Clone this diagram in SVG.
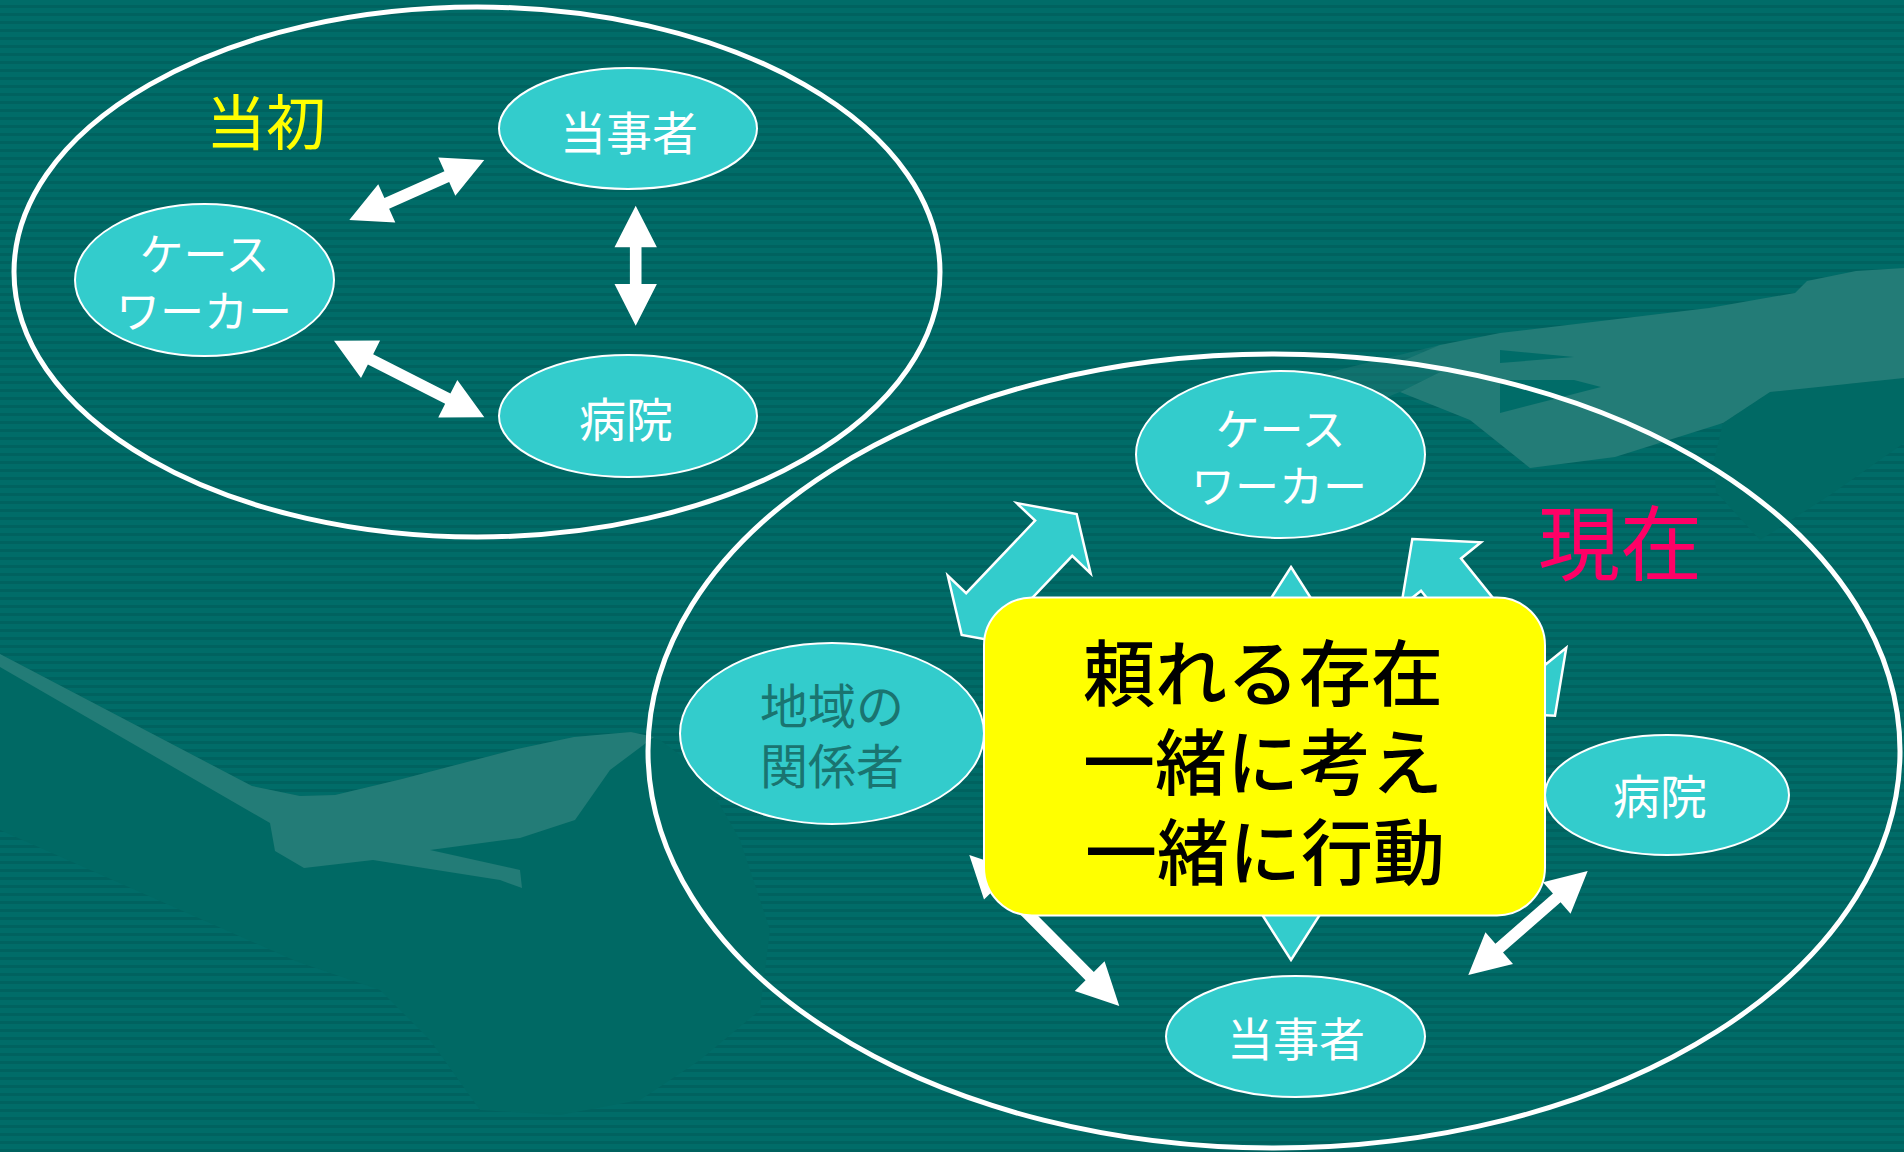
<svg xmlns="http://www.w3.org/2000/svg" width="1904" height="1152" viewBox="0 0 1904 1152">
<defs>
<pattern id="stripes" width="8" height="8" patternUnits="userSpaceOnUse">
<rect width="8" height="8" fill="#006C68"/>
<rect y="5" width="8" height="3" fill="#00625F"/>
</pattern>
<style>
.big{fill:none;stroke:#ffffff;stroke-width:5}
.node{fill:#33CCCC;stroke:#ffffff;stroke-width:2}
.lbl{font-family:"Noto Sans CJK JP","Noto Sans CJK SC",sans-serif;fill:#ffffff;text-anchor:middle}
.warr{fill:#ffffff}
.carr{fill:#33CCCC;stroke:#ffffff;stroke-width:2.5;stroke-linejoin:miter}
.solid{fill:#006964}
.light{fill:#237C77}
</style>
</defs>
<rect width="1904" height="1152" fill="url(#stripes)"/>
<g id="background">
<path class="solid" d="M0,654 L252,786 L300,796 L335,795 L402,779 L517,749 L574,737 L631,732 L660,740 L700,770 L740,840 L770,930 L760,1010 L700,1060 L640,1100 L560,1115 L480,1110 L430,1040 L380,990 L298,962 L0,830 Z"/>
<path class="light" d="M0,654 L252,786 L300,796 L335,795 L402,779 L517,749 L574,737 L631,732 L654,737 L610,770 L575,820 L520,838 L430,850 L520,870 L522,888 L500,880 L373,860 L304,868 L275,851 L270,823 L0,667 Z"/>
<path class="solid" d="M1904,378 L1770,392 L1723,423 L1714,460 L1716,492 L1760,540 L1830,495 L1904,443 Z"/>
<path class="light" d="M1904,268 L1856,271 L1807,281 L1795,293 L1709,308 L1500,333 L1440,345 L1400,362 L1440,372 L1400,392 L1470,420 L1530,468 L1615,457 L1723,423 L1770,392 L1904,378 Z"/>
<path class="light" opacity="0.45" d="M1440,345 L1330,372 L1250,400 L1180,440 L1230,445 L1330,420 L1400,392 L1440,372 Z"/>
<path fill="#006C68" d="M1500,350 L1574,357 L1500,363 Z M1500,380 L1574,380 L1601,387 L1500,413 Z"/>
</g>
<ellipse class="big" cx="477" cy="272" rx="463" ry="265"/>
<ellipse class="big" cx="1274" cy="751" rx="626" ry="397"/>
<text class="lbl" x="266" y="145" font-size="60" style="fill:#FFFF00">当初</text>
<text class="lbl" x="1620" y="574" font-size="82" style="fill:#FF0066">現在</text>
<g id="connectors">
<polygon class="warr" transform="translate(349.3,220) rotate(-23.96)" points="0,0 41,-21 41,-5.8 106.7,-5.8 106.7,-21 147.7,0 106.7,21 106.7,5.8 41,5.8 41,21"/>
<polygon class="warr" transform="translate(635.7,205.7) rotate(90)" points="0,0 41.6,-21.2 41.6,-5.8 78.4,-5.8 78.4,-21.2 120,0 78.4,21.2 78.4,5.8 41.6,5.8 41.6,21.2"/>
<polygon class="warr" transform="translate(334,340.7) rotate(27.0)" points="0,0 41,-21 41,-5.8 127.7,-5.8 127.7,-21 168.7,0 127.7,21 127.7,5.8 41,5.8 41,21"/>
<polygon class="carr" transform="translate(961.7,635) rotate(-46.46)" points="0,0 33.4,-51 33.4,-25.6 133.5,-25.6 133.5,-51 166.9,0 133.5,51 133.5,25.6 33.4,25.6 33.4,51"/>
<polygon class="carr" transform="translate(1412.3,539) rotate(51.08)" points="0,0 45.7,-51.4 45.7,-25.7 181.4,-25.7 181.4,-51.4 227.1,0 181.4,51.4 181.4,25.7 45.7,25.7 45.7,51.4"/>
<polygon class="carr" transform="translate(1291,567) rotate(90)" points="0,0 80,-51 80,-25.7 313,-25.7 313,-51 393,0 313,51 313,25.7 80,25.7 80,51"/>
<polygon class="warr" transform="translate(969.3,855) rotate(45.19)" points="0,0 42,-21 42,-5.8 170.8,-5.8 170.8,-21 212.8,0 170.8,21 170.8,5.8 42,5.8 42,21"/>
<polygon class="warr" transform="translate(1468.3,975) rotate(-41.05)" points="0,0 41,-21 41,-5.8 117.3,-5.8 117.3,-21 158.3,0 117.3,21 117.3,5.8 41,5.8 41,21"/>
</g>
<g id="node-tl-touji">
<ellipse class="node" cx="628" cy="128.5" rx="129" ry="60.5"/>
<text class="lbl" x="629" y="150" font-size="46">当事者</text>
</g>
<g id="node-tl-cw">
<ellipse class="node" cx="204.5" cy="280" rx="129.5" ry="76"/>
<text class="lbl" x="204.5" y="271" font-size="44">ケース</text>
<text class="lbl" x="204" y="328" font-size="44">ワーカー</text>
</g>
<g id="node-tl-byoin">
<ellipse class="node" cx="628" cy="416" rx="129" ry="61"/>
<text class="lbl" x="626" y="437" font-size="47">病院</text>
</g>
<g id="node-br-cw">
<ellipse class="node" cx="1280.5" cy="454.5" rx="144.5" ry="83.5"/>
<text class="lbl" x="1280.5" y="446" font-size="44">ケース</text>
<text class="lbl" x="1279" y="503" font-size="44">ワーカー</text>
</g>
<g id="node-br-chiiki">
<ellipse class="node" cx="832" cy="733.5" rx="152" ry="90.5"/>
<text class="lbl" x="832" y="724" font-size="48" style="fill:#1A7470">地域の</text>
<text class="lbl" x="832" y="784" font-size="48" style="fill:#1A7470">関係者</text>
</g>
<g id="node-br-byoin">
<ellipse class="node" cx="1667" cy="795" rx="122" ry="60"/>
<text class="lbl" x="1660" y="814" font-size="47">病院</text>
</g>
<g id="node-br-touji">
<ellipse class="node" cx="1295.5" cy="1036.5" rx="129.5" ry="60.5"/>
<text class="lbl" x="1296" y="1056" font-size="46">当事者</text>
</g>
<g id="node-center">
<rect x="984" y="597.5" width="561" height="318" rx="48" ry="48" fill="#FFFF00" stroke="#ffffff" stroke-width="2"/>
<text class="lbl" x="1263" y="700" font-size="72" font-weight="500" style="fill:#000000">頼れる存在</text>
<text class="lbl" x="1263" y="789" font-size="72" font-weight="500" style="fill:#000000">一緒に考え</text>
<text class="lbl" x="1265" y="879" font-size="72" font-weight="500" style="fill:#000000">一緒に行動</text>
</g>
</svg>
